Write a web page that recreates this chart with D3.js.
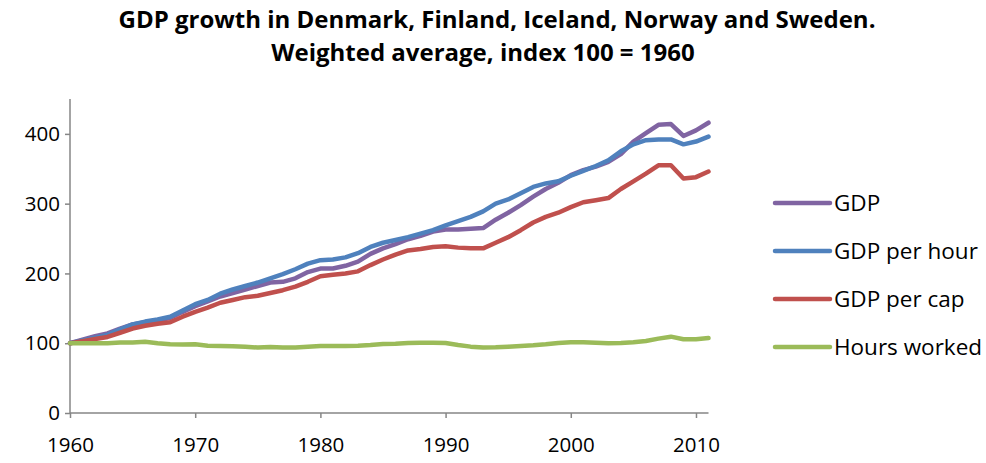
<!DOCTYPE html>
<html>
<head>
<meta charset="utf-8">
<script src="https://cdn.jsdelivr.net/npm/d3@7"></script>
<style>
  body { margin: 0; background: #fff; }
  svg text { font-family: "Open Sans", "Noto Sans", sans-serif; fill: #000; }
</style>
</head>
<body>
<svg id="chart" width="986" height="463"></svg>
<script>
// Data
const years = d3.range(1960, 2012);

const gdp = [100, 105, 110, 114, 121, 127, 130, 133, 136, 145,
  153, 160, 167, 172, 177, 182, 187, 188, 193, 202,
  207, 207, 211, 217, 228, 236, 242, 249, 254, 260,
  263, 263, 264, 265, 277, 287, 298, 310, 321, 330,
  341, 348, 353, 360, 371, 389, 401, 413, 414, 397,
  405, 416];

const gdpPerHour = [100, 104, 108, 112, 120, 127, 131, 134, 138, 147,
  156, 162, 171, 177, 182, 187, 193, 199, 206, 214,
  219, 220, 223, 229, 238, 244, 248, 252, 257, 262,
  269, 275, 281, 289, 300, 306, 315, 324, 329, 332,
  340, 347, 354, 362, 375, 385, 391, 392, 392, 385,
  389, 396];

const gdpPerCap = [100, 103, 106, 109, 115, 121, 125, 128, 130, 138,
  145, 151, 158, 162, 166, 168, 172, 176, 181, 188,
  196, 198, 200, 203, 212, 220, 227, 233, 235, 238,
  239, 237, 236, 236, 244, 252, 262, 273, 281, 287,
  295, 302, 305, 308, 321, 332, 343, 355, 355, 336,
  338, 346];

const hoursWorked = [100, 100, 100, 100, 101, 101, 102, 100, 98.5, 98,
  98.5, 96.5, 96, 95.6, 95, 93.7, 94.6, 93.7, 93.7, 95,
  96, 96, 96, 96.5, 97.5, 99, 99.4, 100.4, 100.8, 100.8,
  100.4, 97.5, 95.1, 93.7, 94.1, 95.1, 96, 97, 98.4, 100.4,
  101.3, 101.3, 100.8, 99.9, 100.4, 101.3, 103.2, 106.6, 109.4, 105.6,
  105.6, 107.5];

const seriesNames = ['GDP', 'GDP per hour', 'GDP per cap', 'Hours worked'];
const seriesColors = ['#8064A2', '#4F81BD', '#C0504D', '#9BBB59'];
const yTicks = [0, 100, 200, 300, 400];
const xTicks = [1960, 1970, 1980, 1990, 2000, 2010];

const titleLines = [
  'GDP growth in Denmark, Finland, Iceland, Norway and Sweden.',
  'Weighted average, index 100 = 1960'
];

const series = [gdp, gdpPerHour, gdpPerCap, hoursWorked].map((vals, i) => ({
  name: seriesNames[i],
  color: seriesColors[i],
  values: vals.map((v, j) => ({ year: years[j], value: v }))
}));

const svg = d3.select('#chart');

// Scales
const x = d3.scaleLinear().domain([1960, 2011]).range([70, 708.5]);
const y = d3.scaleLinear().domain([0, 450]).range([413, 99]);

// Title
svg.append('g')
  .selectAll('text')
  .data(titleLines)
  .enter()
  .append('text')
  .attr('x', (d, i) => i === 0 ? 497 : 483)
  .attr('y', (d, i) => 28 + i * 33)
  .attr('text-anchor', 'middle')
  .style('font-weight', 'bold')
  .style('font-size', '24px')
  .text(d => d);

// Axes
const axisColor = '#868686';

const yAxis = svg.append('g')
  .attr('transform', 'translate(70,0)')
  .call(d3.axisLeft(y).tickValues(yTicks).tickSize(5).tickPadding(5).tickFormat(d3.format('d')));

const xAxis = svg.append('g')
  .attr('transform', 'translate(0,413)')
  .call(d3.axisBottom(x).tickValues(xTicks).tickSize(5).tickPadding(19).tickFormat(d3.format('d')));

[yAxis, xAxis].forEach(ax => {
  ax.select('.domain').attr('stroke', axisColor).attr('stroke-width', 1.5);
  ax.selectAll('.tick line').attr('stroke', axisColor).attr('stroke-width', 1.5);
  ax.selectAll('.tick text').style('font-size', '20.5px').attr('fill', '#000');
});
// draw the domains as plain lines (no outer tick stubs)
yAxis.select('.domain').attr('d', `M0,${y(450)}V${y(0)}`);
xAxis.select('.domain').attr('d', `M${x(1960)},0H${x(2011)}`);

// Lines
const line = d3.line()
  .x(d => x(d.year))
  .y(d => y(d.value));

svg.append('g')
  .selectAll('path')
  .data(series)
  .enter()
  .append('path')
  .attr('d', d => line(d.values))
  .attr('fill', 'none')
  .attr('stroke', d => d.color)
  .attr('stroke-width', 4.5)
  .attr('stroke-linejoin', 'round')
  .attr('stroke-linecap', 'round');

// Legend
const legend = svg.append('g')
  .selectAll('g')
  .data(series)
  .enter()
  .append('g')
  .attr('transform', (d, i) => `translate(775, ${203 + i * 48})`);

legend.append('line')
  .attr('x1', 0)
  .attr('x2', 55)
  .attr('stroke', d => d.color)
  .attr('stroke-width', 4.5)
  .attr('stroke-linecap', 'round');

legend.append('text')
  .attr('x', 59)
  .attr('dy', '0.35em')
  .style('font-size', '22.5px')
  .text(d => d.name);
</script>
</body>
</html>
